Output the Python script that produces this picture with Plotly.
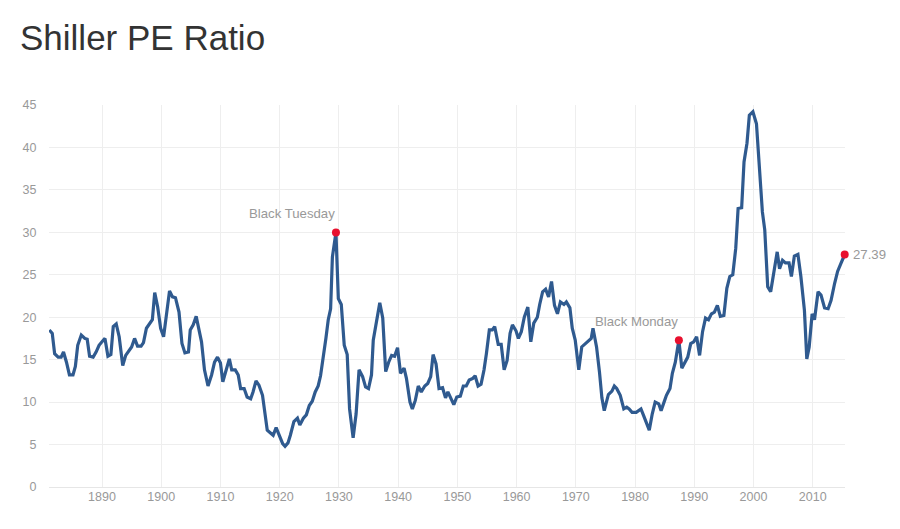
import plotly.graph_objects as go

# Shiller PE (fractional years)
years = [1881.1, 1881.6, 1882.0, 1882.6, 1883.1, 1883.5, 1884.0, 1884.5, 1885.1, 1885.5,
         1885.9, 1886.5, 1887.1, 1887.5, 1887.9, 1888.5, 1889.0, 1889.5, 1890.1, 1890.5,
         1891.0, 1891.5, 1891.9, 1892.4, 1892.9, 1893.5, 1894.0, 1894.6, 1895.0, 1895.5,
         1896.0, 1896.6, 1897.0, 1897.5, 1898.1, 1898.5, 1898.9, 1899.4, 1899.9, 1900.4,
         1900.9, 1901.4, 1901.9, 1902.4, 1903.0, 1903.5, 1904.0, 1904.6, 1904.9, 1905.4,
         1905.9, 1906.4, 1906.8, 1907.3, 1907.9, 1908.5, 1909.0, 1909.5, 1910.0, 1910.4,
         1910.9, 1911.5, 1911.9, 1912.5, 1913.0, 1913.4, 1914.0, 1914.5, 1915.1, 1915.5,
         1916.0, 1916.5, 1917.1, 1917.5, 1917.9, 1918.4, 1918.9, 1919.4, 1919.9, 1920.5,
         1920.9, 1921.4, 1921.8, 1922.4, 1923.0, 1923.4, 1924.0, 1924.5, 1925.0, 1925.5,
         1926.0, 1926.5, 1926.9, 1927.3, 1927.8, 1928.2, 1928.6, 1928.9, 1929.5, 1929.9,
         1930.4, 1930.9, 1931.4, 1931.8, 1932.4, 1932.9, 1933.4, 1934.0, 1934.5, 1935.0,
         1935.5, 1935.8, 1936.4, 1936.9, 1937.4, 1937.9, 1938.4, 1938.9, 1939.4, 1939.9,
         1940.4, 1941.0, 1941.4, 1942.0, 1942.4, 1942.9, 1943.4, 1943.9, 1944.5, 1945.0,
         1945.5, 1945.9, 1946.4, 1946.9, 1947.5, 1948.0, 1948.4, 1948.9, 1949.4, 1949.9,
         1950.5, 1951.0, 1951.5, 1952.0, 1952.6, 1953.0, 1953.5, 1954.0, 1954.5, 1954.9,
         1955.4, 1955.9, 1956.3, 1956.9, 1957.4, 1957.9, 1958.4, 1958.9, 1959.3, 1959.9,
         1960.3, 1960.8, 1961.3, 1961.9, 1962.4, 1962.9, 1963.5, 1963.9, 1964.4, 1964.9,
         1965.4, 1965.9, 1966.4, 1966.9, 1967.4, 1968.0, 1968.4, 1969.0, 1969.4, 1969.9,
         1970.5, 1971.0, 1971.6, 1972.2, 1972.6, 1972.9, 1973.5, 1974.0, 1974.4, 1974.8,
         1975.5, 1976.1, 1976.5, 1976.9, 1977.5, 1978.1, 1978.6, 1979.0, 1979.5, 1980.2,
         1980.6, 1981.0, 1981.4, 1982.0, 1982.4, 1982.9, 1983.4, 1984.0, 1984.4, 1984.9,
         1985.3, 1985.9, 1986.3, 1986.8, 1987.4, 1987.9, 1988.4, 1988.9, 1989.4, 1989.9,
         1990.4, 1990.9, 1991.4, 1991.9, 1992.4, 1992.9, 1993.4, 1993.9, 1994.4, 1995.0,
         1995.5, 1996.0, 1996.5, 1997.0, 1997.4, 1998.0, 1998.4, 1998.9, 1999.3, 1999.9,
         2000.5, 2001.0, 2001.5, 2001.9, 2002.4, 2002.9, 2003.4, 2004.0, 2004.4, 2004.9,
         2005.4, 2006.0, 2006.4, 2006.9, 2007.5, 2008.0, 2008.6, 2009.0, 2009.4, 2009.9,
         2010.3, 2010.9, 2011.4, 2012.0, 2012.6, 2013.1, 2013.7, 2014.2, 2014.8, 2015.4]
pe = [18.5, 18.1, 15.7, 15.3, 15.3, 15.9, 14.7, 13.2, 13.2, 14.2,
      16.7, 17.9, 17.5, 17.4, 15.4, 15.3, 15.9, 16.7, 17.2, 17.5,
      15.4, 15.6, 18.9, 19.2, 17.7, 14.3, 15.5, 16.2, 16.5, 17.5,
      16.6, 16.6, 17.0, 18.7, 19.3, 19.7, 22.9, 21.2, 18.7, 17.7,
      20.4, 23.1, 22.4, 22.3, 20.6, 16.9, 15.8, 15.9, 18.5, 19.1,
      20.1, 18.3, 17.1, 13.8, 11.9, 13.2, 14.7, 15.3, 14.6, 12.4,
      13.8, 15.1, 13.8, 13.8, 13.2, 11.6, 11.6, 10.6, 10.4, 11.2,
      12.5, 12.0, 10.8, 8.8, 6.7, 6.4, 6.1, 7.0, 6.1, 5.1,
      4.8, 5.2, 6.1, 7.7, 8.1, 7.3, 8.1, 8.5, 9.6, 10.1,
      11.2, 11.9, 13.1, 14.9, 17.5, 19.7, 21.0, 27.1, 29.99, 22.2,
      21.5, 16.7, 15.6, 9.2, 5.8, 8.6, 13.8, 13.0, 11.8, 11.6,
      13.2, 17.3, 19.7, 21.7, 19.9, 13.6, 14.7, 15.5, 15.4, 16.4,
      13.4, 14.0, 12.8, 10.0, 9.2, 10.2, 11.9, 11.2, 11.9, 12.2,
      13.0, 15.6, 14.5, 11.6, 11.7, 10.5, 11.2, 10.4, 9.7, 10.6,
      10.7, 11.9, 11.9, 12.6, 12.8, 13.1, 11.9, 12.1, 13.8, 15.7,
      18.5, 18.5, 18.9, 16.8, 16.8, 13.8, 14.9, 18.1, 19.1, 18.4,
      17.5, 18.3, 20.0, 21.2, 17.1, 19.3, 20.0, 21.5, 23.0, 23.3,
      22.4, 24.2, 21.4, 20.4, 21.8, 21.5, 21.8, 21.1, 18.7, 17.3,
      13.8, 16.5, 16.9, 17.3, 17.5, 18.7, 16.5, 13.5, 10.5, 9.0,
      10.9, 11.3, 11.9, 11.6, 10.8, 9.2, 9.4, 9.2, 8.8, 8.8,
      9.0, 9.2, 8.5, 7.3, 6.7, 8.6, 10.0, 9.8, 9.0, 10.0,
      10.8, 11.6, 13.4, 14.7, 17.3, 14.0, 14.7, 15.3, 16.9, 17.1,
      17.7, 15.5, 18.3, 19.9, 19.7, 20.4, 20.6, 21.4, 20.1, 20.2,
      23.4, 24.8, 25.0, 28.1, 32.8, 32.9, 38.3, 40.5, 43.8, 44.2,
      42.8, 37.7, 32.4, 30.3, 23.6, 23.0, 25.2, 27.7, 25.7, 26.7,
      26.4, 26.4, 24.8, 27.2, 27.4, 24.8, 20.8, 15.1, 16.5, 20.4,
      19.7, 23.0, 22.6, 21.1, 21.0, 22.0, 24.0, 25.4, 26.4, 27.39]

event_names = ["Black Tuesday", "Black Monday"]
event_years = [1929.5, 1987.4]
event_pe = [29.99, 17.3]

tick_years = list(range(1890, 2020, 10))

line_color = "#2f5a8f"
dot_color = "#e8102e"
grey = "#999999"
FONT = "Liberation Sans, Arial, sans-serif"

fig = go.Figure()

fig.add_trace(go.Scatter(x=years, y=pe, mode="lines",
                         line=dict(color=line_color, width=3.2),
                         hoverinfo="x+y", showlegend=False))

# 표시된 이벤트 + 마지막 값
fig.add_trace(go.Scatter(x=event_years + [years[-1]], y=event_pe + [pe[-1]], mode="markers",
                         marker=dict(color=dot_color, size=8), cliponaxis=False,
                         hoverinfo="x+y", showlegend=False))

for name, yr, v in zip(event_names, event_years, event_pe):
    fig.add_annotation(x=yr, y=v, text=name, showarrow=False,
                       xanchor="right", yanchor="bottom", yshift=9, xshift=1,
                       font=dict(size=13.2, color=grey, family=FONT))

fig.add_annotation(x=years[-1], y=pe[-1], text="%.2f" % pe[-1], showarrow=False,
                   xanchor="left", yanchor="middle", xshift=6,
                   font=dict(size=13.2, color=grey, family=FONT))

# 페이지 body 여백(8px)만큼 보정
fig.update_layout(
    width=900, height=529,
    margin=dict(l=41, r=63, t=97, b=50),
    paper_bgcolor="white", plot_bgcolor="white",
    title=dict(text="Shiller PE Ratio", x=12 / 900, xref="container", xanchor="left",
               y=1 - 30 / 529, yref="container", yanchor="middle",
               font=dict(size=35, color="#333333", family=FONT)),
    font=dict(family=FONT, color=grey, size=12.5),
    xaxis=dict(range=[1881.05, 2015.45], tickvals=tick_years, showgrid=True,
               gridcolor="#eeeeee", gridwidth=1, zeroline=False, showline=False,
               ticks="", tickfont=dict(size=12.5, color=grey)),
    yaxis=dict(range=[0, 45], dtick=5, showgrid=True, gridcolor="#eeeeee", gridwidth=1,
               zeroline=True, zerolinecolor="#e6e6e6", zerolinewidth=1, showline=False,
               ticks="outside", ticklen=9, tickcolor="rgba(0,0,0,0)",
               tickfont=dict(size=12.5, color=grey)),
)

fig.write_html("out.html")
